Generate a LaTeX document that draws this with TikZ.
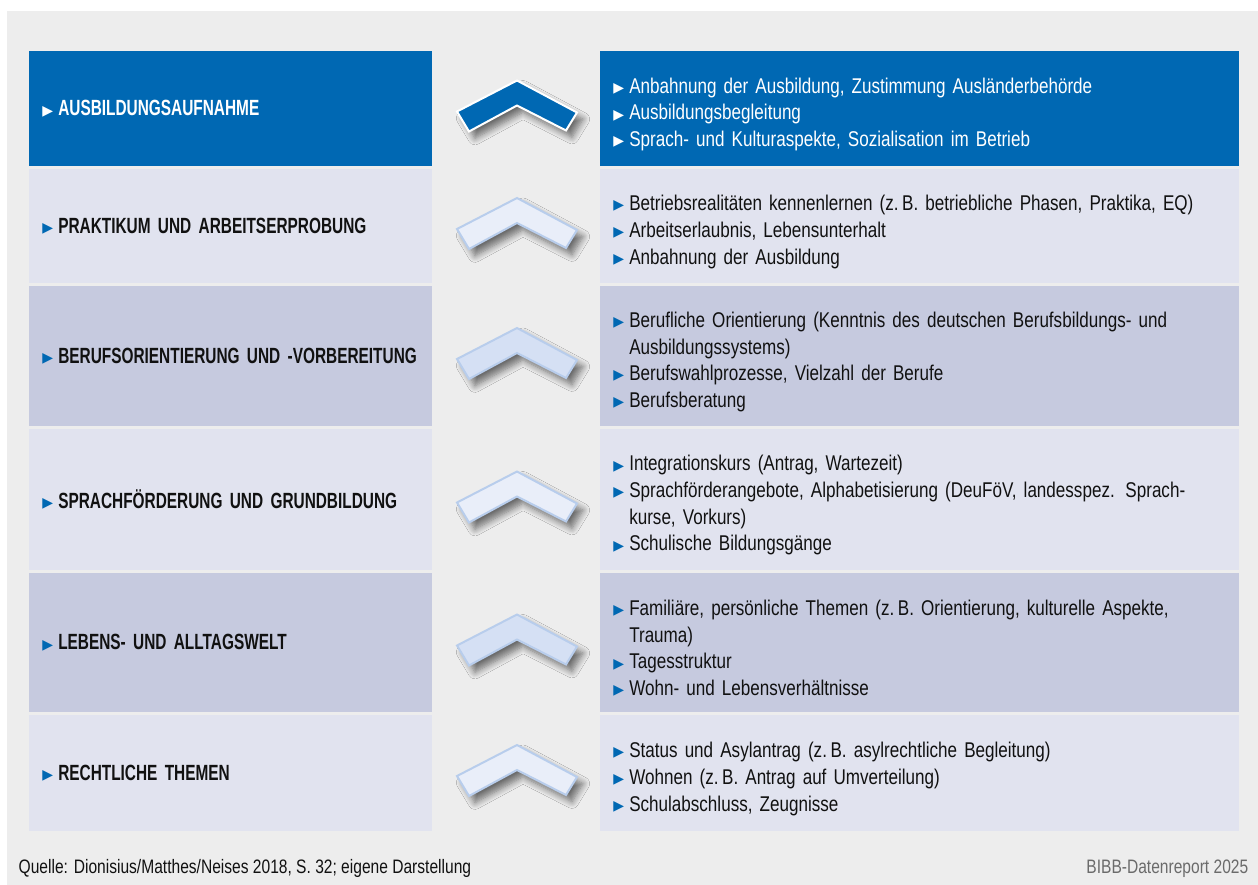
\documentclass[tikz,border=0pt]{standalone}
\usepackage{fontspec}
\setmainfont{Liberation Sans}[FakeStretch=0.8]
\newfontfamily\labelfont{Liberation Sans}[FakeStretch=0.7]
\newfontfamily\symfont{DejaVu Sans}
\usepackage{xcolor}
\usetikzlibrary{positioning,shadows.blur}
\definecolor{PanelGray}{HTML}{EDEDED}
\definecolor{BibbBlue}{HTML}{0068B3}
\definecolor{RowLight}{HTML}{E1E3EF}
\definecolor{RowMid}{HTML}{C6CADF}
\definecolor{ChevLight}{HTML}{E9EEF9}
\definecolor{ChevMid}{HTML}{D5E0F4}
\definecolor{ChevEdge}{HTML}{B8CDEC}
\definecolor{TextDark}{HTML}{111111}
\definecolor{NoteGray}{HTML}{6B6B6B}
\colorlet{bul}{BibbBlue}
\newcommand\blt{\raisebox{0.6pt}{\symfont\fontsize{10.5}{10}\selectfont\textcolor{bul}{▶}}}
\newcommand\itm[1]{\par\hangindent=12pt\hangafter=1\noindent\makebox[12pt][l]{\blt}#1}

\begin{document}
\begin{tikzpicture}[
	x=0.75pt, y=-0.75pt,
	lbox/.style={anchor=north west, inner xsep=9.75pt, text width=282.75pt, align=left, minimum width=302.25pt, font=\labelfont\fontsize{16.5}{18}\selectfont\bfseries, text=TextDark},
	rbox/.style={anchor=north west, inner xsep=9.75pt, text width=459.75pt, align=left, minimum width=479.25pt, font=\fontsize{16}{20}\selectfont, text=TextDark},
	top/.style={fill=BibbBlue, text=white, execute at begin node=\colorlet{bul}{white}},
	chev/.style={line width=1.5pt, line join=miter, blur shadow={shadow xshift=4.5pt, shadow yshift=-5pt, shadow blur radius=5pt, shadow blur steps=8, shadow opacity=55}},
	chevron/.pic={\path[chev, pic actions] (0,-28) -- (60,4) -- (49,22) -- (0,-3) -- (-48,23) -- (-60,3) -- cycle;},
	note/.style={font=\fontsize{14.6}{16}\selectfont}
]
\useasboundingbox (0,0) rectangle (1258,885);
\fill[PanelGray] (7,11) rectangle (1258,885);

% left column
\node[lbox, top, minimum height=86.25pt] (aufnahme) at (29,51) {\makebox[12pt][l]{\blt}AUSBILDUNGSAUFNAHME};
\node[lbox, fill=RowLight, minimum height=85.5pt] (praktikum) at (29,169) {\makebox[12pt][l]{\blt}PRAKTIKUM UND ARBEITSERPROBUNG};
\node[lbox, fill=RowMid, minimum height=105pt] (orient) at (29,286) {\makebox[12pt][l]{\blt}BERUFSORIENTIERUNG UND -VORBEREITUNG};
\node[lbox, fill=RowLight, minimum height=105.75pt] (sprache) at (29,429) {\makebox[12pt][l]{\blt}SPRACHFÖRDERUNG UND GRUNDBILDUNG};
\node[lbox, fill=RowMid, minimum height=104.25pt] (alltag) at (29,573) {\makebox[12pt][l]{\blt}LEBENS- UND ALLTAGSWELT};
\node[lbox, fill=RowLight, minimum height=87pt] (recht) at (29,715) {\makebox[12pt][l]{\blt}RECHTLICHE THEMEN};

% chevrons
\pic[fill=BibbBlue, draw=white] at (517,108.5) {chevron};
\pic[fill=ChevLight, draw=ChevEdge] at (517,226) {chevron};
\pic[fill=ChevMid, draw=ChevEdge] at (517,356) {chevron};
\pic[fill=ChevLight, draw=ChevEdge] at (517,499.5) {chevron};
\pic[fill=ChevMid, draw=ChevEdge] at (517,642.5) {chevron};
\pic[fill=ChevLight, draw=ChevEdge] at (517,773) {chevron};

% right column
\node[rbox, top, minimum height=86.25pt] (aufnahme-r) at (600,51) {%
	\itm{Anbahnung der Ausbildung, Zustimmung Ausländerbehörde}
	\itm{Ausbildungsbegleitung}
	\itm{Sprach- und Kulturaspekte, Sozialisation im Betrieb}};
\node[rbox, fill=RowLight, minimum height=85.5pt] (praktikum-r) at (600,169) {%
	\itm{Betriebsrealitäten kennenlernen (z.\,B. betriebliche Phasen, Praktika, EQ)}
	\itm{Arbeitserlaubnis, Lebensunterhalt}
	\itm{Anbahnung der Ausbildung}};
\node[rbox, fill=RowMid, minimum height=105pt] (orient-r) at (600,286) {%
	\itm{Berufliche Orientierung (Kenntnis des deutschen Berufsbildungs- und\break Ausbildungssystems)}
	\itm{Berufswahlprozesse, Vielzahl der Berufe}
	\itm{Berufsberatung}};
\node[rbox, fill=RowLight, minimum height=105.75pt] (sprache-r) at (600,429) {%
	\itm{Integrationskurs (Antrag, Wartezeit)}
	\itm{Sprachförderangebote, Alphabetisierung (DeuFöV, landesspez. Sprach-\break kurse, Vorkurs)}
	\itm{Schulische Bildungsgänge}};
\node[rbox, fill=RowMid, minimum height=104.25pt] (alltag-r) at (600,573) {%
	\itm{Familiäre, persönliche Themen (z.\,B. Orientierung, kulturelle Aspekte,\break Trauma)}
	\itm{Tagesstruktur}
	\itm{Wohn- und Lebensverhältnisse}};
\node[rbox, fill=RowLight, minimum height=87pt] (recht-r) at (600,715) {%
	\itm{Status und Asylantrag (z.\,B. asylrechtliche Begleitung)}
	\itm{Wohnen (z.\,B. Antrag auf Umverteilung)}
	\itm{Schulabschluss, Zeugnisse}};

% footer
\node[note, anchor=base west, text=TextDark] (quelle) at (14,873) {Quelle: Dionisius/Matthes/Neises 2018, S. 32; eigene Darstellung};
\node[note, anchor=base east, text=NoteGray] (report) at (1253,873) {BIBB-Datenreport 2025};
\end{tikzpicture}
\end{document}
